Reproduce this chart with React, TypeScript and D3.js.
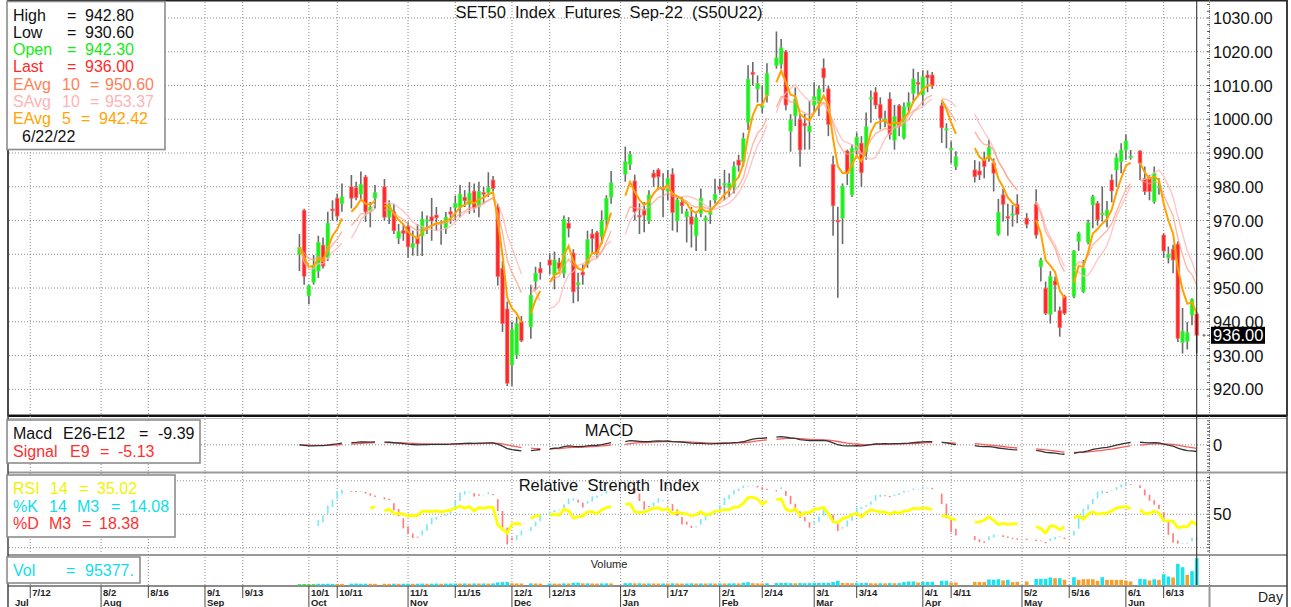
import React, { useEffect, useRef } from 'react';
import * as d3 from 'd3';

const W = 1291;
const H = 607;
const FONT = '"Liberation Sans", Arial, Helvetica, sans-serif';

// trading calendar (weekday slots, slot 0 = 7/12/21)
const slotBase = '2021-07-12';
const firstSession = '2021-09-29';
const lastSession = '2022-06-22';
const holidays = [
  '2021-10-13', '2021-10-22', '2021-12-06', '2021-12-10', '2021-12-31', '2022-01-03',
  '2022-02-16', '2022-04-06', '2022-04-13', '2022-04-14', '2022-04-15', '2022-05-02',
  '2022-05-04', '2022-05-16', '2022-06-03',
];

const dateTicks = [
  '2021-07-12', '2021-08-02', '2021-08-16', '2021-09-01', '2021-09-13', '2021-10-01',
  '2021-10-11', '2021-11-01', '2021-11-15', '2021-12-01', '2021-12-13', '2022-01-03',
  '2022-01-17', '2022-02-01', '2022-02-14', '2022-03-01', '2022-03-14', '2022-04-01',
  '2022-04-11', '2022-05-02', '2022-05-16', '2022-06-01', '2022-06-13',
];
const priceTicks = [920, 930, 940, 950, 960, 970, 980, 990, 1000, 1010, 1020, 1030];

// S50U22 daily OHLC
const opens = [
  960, 973,
  947.7, 951.7, 955, 962.7, 959, 973.4, 976.6, 975, 980, 979.7, 977.8, 982.9, 972.9, 976.6, 980, 971, 972.6, 964.7, 967,
  968.2, 962, 964.9, 965.5, 969.8, 971.1, 971.6, 969.5, 967.7, 972.6, 973.8, 973.8, 976.9, 974.8, 978.7, 974, 978.3, 978.3, 982, 974, 955.8, 943.8,
  927.2, 930.2, 940, 938.5, 952, 955.8, 958.3, 953.9, 957.5, 954.4, 969.2, 960.3, 950.9, 954.7, 957.3, 966, 966.4, 965.2, 970.1, 976.9,
  983.7, 986.6, 981.7, 971.5, 973.1, 969.9, 984, 985, 979.8, 978.7, 983.7, 969.9, 975.4, 971.1, 971.1, 965.5, 972.1, 969.9, 971.8, 976.1,
  980, 980.5, 979.7, 980, 987.9, 987.4, 999.1, 1013.9, 1009, 1003.5, 1007, 1015.9, 1016.3, 1020, 996.5, 1001, 1000, 998.8, 996.3,
  1004.2, 1004.7, 1015.1, 1009, 986.6, 970.1, 970.7, 990.6, 977.6, 990.9, 992.9, 990.4, 1006, 1008, 1004.4, 999.6, 1006, 993.8, 1004, 994.5, 1003.7, 1007.7, 1010.9,
  1007.2, 1013.1, 1013.1, 1004, 996.8, 990.9, 986, 985, 984.7, 988, 988.4, 987, 965.9, 977.6, 971.2, 971.5, 974.8,
  970.7, 974.8, 956.3, 949.9, 942.2, 952.1, 943.3, 947.5, 947.5, 963.8, 948.9, 963.6, 974.6, 975.1, 972, 971.4, 982, 985, 987.4,
  990.9, 988.6, 990.6, 982.5, 982.5, 975.6, 979.8, 965.7, 959, 961.5, 963, 933.9, 934.2, 942, 942.3,
];
const highs = [
  966, 973.5,
  951, 959.8, 965.5, 965, 972.6, 976, 978, 981, 983.5, 981.5, 984.5, 983.5, 975.5, 980.5, 982.3, 976, 975, 969, 969,
  969.5, 967, 969, 972.7, 971.5, 976.7, 974, 970, 972.5, 974, 977.4, 980.5, 979, 981.4, 981, 981.5, 980, 984.3, 983.2, 975, 958, 946,
  940, 941.5, 941.7, 951, 956.3, 957.7, 960.3, 960.8, 959, 971.5, 971, 961.5, 954.5, 957, 967, 967.5, 967, 973, 977.5, 984.7,
  991.9, 990.6, 983.6, 975.1, 975.5, 979, 985, 985.5, 984, 985, 985.5, 977, 977, 973.5, 974, 972, 979.5, 971.5, 976, 982.4,
  982.4, 985, 984, 987.5, 989.5, 996, 1016, 1017, 1013, 1010, 1016.6, 1026, 1023.8, 1020.5, 1001.5, 1009.4, 1001.8, 1001.6, 1005.4,
  1011, 1010, 1018, 1010, 989.2, 974.1, 981, 991, 992.5, 996.1, 995, 1002, 1008.5, 1009.5, 1006.5, 1002.5, 1008, 1004.3, 1004.5, 1005, 1008, 1015, 1014,
  1014.5, 1014.5, 1014, 1005, 998.8, 993.5, 990.5, 987.9, 987.5, 990.4, 993.9, 988.4, 976.4, 979.4, 975, 974.6, 977.8,
  972.2, 979.3, 959, 951.9, 955, 953.4, 944.5, 948, 961.3, 966.7, 958.3, 970.2, 977.6, 975.8, 980.1, 975.8, 983.7, 989.9, 992.9,
  995.5, 990.9, 990.8, 986, 983.5, 986, 982.5, 966.2, 962.3, 962.8, 963.8, 944.1, 939.9, 947, 942.8,
];
const lows = [
  955, 951,
  945.2, 951, 953, 955.8, 958, 970, 970, 972.6, 973.6, 976, 976, 969.6, 968, 973.6, 970, 969, 966, 963, 964,
  959, 959.6, 959.5, 959.5, 966, 964, 967, 962.8, 966, 969, 970, 971, 974, 972, 972.3, 971, 975, 977, 978.6, 950.7, 937, 921,
  921, 929, 934, 935, 949.4, 952.5, 954, 949.6, 955, 953, 965, 945.5, 946, 951, 956, 960, 959, 963, 968, 975,
  981.5, 985, 970, 966, 966.5, 969, 980, 979, 971, 976, 967, 966.5, 972, 963.5, 962, 961, 971, 961, 969, 975,
  978, 976, 977, 978, 984.5, 986, 996.8, 1010, 1005, 1001.8, 1005, 1015, 1015, 1002.7, 990.4, 998, 985.9, 991, 991,
  1002, 1001, 1008, 995, 965.5, 947.1, 963, 980.5, 977, 989, 980, 988, 999, 1003, 997, 997.6, 994, 991, 995, 994, 1002, 1005, 1007,
  1004, 1008, 1009, 993, 991.4, 986.9, 985, 981.3, 982, 982.5, 987.4, 978.6, 965.5, 969.7, 965.5, 968.2, 969.2,
  967.7, 964.7, 951.9, 942, 939.5, 943, 935.6, 942, 947, 961, 948.5, 963, 967.7, 968.5, 969.7, 968, 975.4, 980, 984,
  988, 988, 982, 977.6, 976, 975, 977.6, 959, 957.3, 954.4, 934, 930.6, 931.8, 939, 930.6,
];
const closes = [
  962, 953.5,
  950.7, 956.8, 963.5, 956.5, 969.2, 972.9, 971.3, 977, 976.6, 976.8, 980.7, 972.6, 974, 978.3, 971, 974.8, 967, 966.7, 966.2,
  962.2, 963.2, 963.1, 970.4, 970.2, 969.9, 970.8, 969.6, 971, 971.9, 975.1, 977.8, 975.9, 978.1, 973.8, 978.6, 977.8, 979.7, 979.5, 953.4, 939.5, 921.8,
  937.6, 939.5, 934.4, 947.9, 954.4, 954.5, 956.8, 958.3, 955.8, 970.4, 967.7, 948.9, 951.6, 953.9, 964.3, 964.7, 960.3, 969.9, 976.6, 981.2,
  987.4, 989.6, 972.6, 971.4, 971.6, 977.6, 982.8, 983, 979.1, 982.5, 972.4, 976.1, 974.4, 972.6, 968.9, 970.8, 976.6, 970.8, 972.6, 977.8,
  979.3, 981, 981, 986, 986.4, 994.3, 1011.9, 1013.3, 1010.6, 1004, 1013.6, 1018.2, 1021.2, 1004.2, 999.8, 1006, 990.9, 998.1, 998,
  1006.7, 1009, 1012.3, 998.5, 974.4, 969.6, 980.2, 984, 991.4, 994.7, 984.2, 997.8, 1006.4, 1004.2, 1000.3, 1000.2, 995.5, 1000.8, 998, 1003.7, 1005, 1011.9, 1010.4,
  1012.6, 1012.3, 1010, 997.5, 997.2, 991.4, 988.9, 983, 983.5, 986, 991.6, 984, 972.4, 974.8, 970.7, 972, 971.8,
  968.9, 965.7, 958.3, 942.5, 953.4, 950.9, 938.3, 942.5, 961, 966.2, 955.9, 969.4, 977.1, 970.2, 972.2, 973.1, 978.8, 988.6, 990.9,
  993.6, 989, 987, 978.6, 978.6, 984, 980.2, 961, 960, 958.3, 935.1, 937.2, 936.8, 946.7, 936,
];
const volumes = [
  4500, 4800,
  4200, 4600, 6000, 5800, 6200, 5600, 5800, 5500, 6500, 6800, 6200, 6400, 6000, 5900, 6100, 5800, 6500, 6000, 6300,
  6600, 6000, 6200, 6800, 6100, 6500, 6700, 6200, 6600, 6900, 7000, 6800, 7200, 6700, 7100, 6900, 7000, 6600, 7300, 10500, 11600, 12000,
  8000, 7200, 7000, 7500, 7000, 6500, 7000, 6800, 6400, 7400, 7000, 9500, 9800, 7500, 7600, 7000, 6800, 7200, 7400, 7100,
  8000, 8200, 7500, 7800, 7000, 7300, 7000, 6800, 7200, 6900, 7600, 7200, 6800, 7000, 7400, 7100, 7300, 7000, 7200, 7000,
  7400, 7100, 7300, 7600, 7200, 10000, 11500, 8000, 7500, 7300, 7800, 8500, 8800, 9000, 8200, 7800, 8300, 8000, 8200,
  8800, 9000, 9300, 9600, 12000, 16300, 9000, 8500, 8000, 8300, 8600, 8800, 7800, 7600, 8000, 7500, 8200, 7900, 8300, 12000, 14000, 14200, 10500,
  12500, 12800, 13000, 16300, 16500, 10500, 10000, 12800, 12500, 12000, 21000, 20500, 22000, 17500, 19800, 11600, 12800,
  14000, 23000, 23300, 23500, 28000, 25500, 25500, 19800, 29000, 19800, 22000, 22000, 22000, 16300, 29000, 19800, 19800, 19800, 19800,
  17500, 14000, 23300, 22000, 17500, 22000, 19800, 39500, 31500, 28000, 75800, 64000, 37400, 50000, 95377,
];
// volume tick: 1 up, 0 down, 2 first sessions
const volTick = [
  2, 2,
  2, 2, 1, 1, 1, 1, 0, 0, 1, 1, 1, 1, 0, 0, 0, 0, 1, 0, 1,
  1, 0, 1, 1, 0, 1, 1, 0, 1, 1, 1, 0, 1, 0, 1, 0, 1, 0, 1, 1, 1, 1,
  0, 0, 0, 1, 0, 0, 1, 0, 0, 1, 0, 1, 1, 0, 1, 0, 0, 1, 1, 0,
  1, 1, 0, 1, 0, 1, 0, 0, 1, 0, 1, 0, 0, 1, 1, 0, 1, 0, 1, 0,
  1, 0, 1, 1, 0, 1, 1, 0, 0, 0, 1, 1, 1, 1, 1, 0, 1, 1, 1,
  1, 1, 1, 1, 1, 1, 0, 0, 0, 1, 1, 1, 0, 0, 1, 0, 1, 0, 1, 1, 1, 1, 0,
  1, 1, 1, 1, 1, 0, 0, 0, 0, 0, 1, 1, 1, 0, 1, 0, 0,
  0, 1, 1, 1, 1, 0, 1, 0, 1, 0, 0, 0, 0, 0, 1, 0, 0, 0, 0,
  0, 0, 1, 1, 0, 1, 0, 1, 1, 0, 1, 1, 0, 1, 1,
];

// legend texts as shown on the chart
const legendMain = [
  ['High', '=', '942.80'], ['Low', '=', '930.60'], ['Open', '=', '942.30'], ['Last', '=', '936.00'],
  ['EAvg', '10', '=', '950.60'], ['SAvg', '10', '=', '953.37'], ['EAvg', '5', '=', '942.42'], ['6/22/22'],
];
const legendMacd = [['Macd', 'E26-E12', '=', '-9.39'], ['Signal', 'E9', '=', '-5.13']];
const legendRsi = [['RSI', '14', '=', '35.02'], ['%K', '14', 'M3', '=', '14.08'], ['%D', 'M3', '=', '18.38']];
const legendVol = [['Vol', '=', '95377.']];
const title = 'SET50  Index  Futures  Sep-22  (S50U22)';

function ema(vals: number[], n: number) {
  const k = 2 / (n + 1);
  const out: number[] = [];
  vals.forEach((v, i) => out.push(i === 0 ? v : out[i - 1] + k * (v - out[i - 1])));
  return out;
}
function sma(vals: number[], n: number) {
  return vals.map((_, i) => d3.mean(vals.slice(Math.max(0, i - n + 1), i + 1)) as number);
}

function draw(node: SVGSVGElement) {
  const svg = d3.select(node);
  svg.selectAll('*').remove();

  const parse = d3.timeParse('%Y-%m-%d');
  const fmt = d3.timeFormat('%Y-%m-%d');
  const base = parse(slotBase) as Date;
  const slotOf = (d: Date) => {
    const n = d3.timeDay.count(base, d);
    return Math.floor(n / 7) * 5 + (((n % 7) + 7) % 7);
  };
  const hol = new Set(holidays);
  const days = d3.timeDay
    .range(parse(firstSession) as Date, d3.timeDay.offset(parse(lastSession) as Date, 1))
    .filter((d) => d.getDay() % 6 !== 0 && !hol.has(fmt(d)));
  const slots = days.map(slotOf);
  if (days.length !== closes.length) console.warn('length mismatch', days.length, closes.length);

  const x = d3.scaleLinear().domain([-4.5, 249.6]).range([9, 1209]);
  const y = d3.scaleLinear().domain([920, 1030]).range([389.3, 18]);
  const yMacd = d3.scaleLinear().domain([-38, 38]).range([471.7, 418]);
  const yRsi = d3.scaleLinear().domain([0, 100]).range([547.7, 480.8]);
  const yVol = d3.scaleLinear().domain([0, 95377]).range([585.5, 558.2]);

  // indicators
  const ema10 = ema(closes, 10);
  const sma10 = sma(closes, 10);
  const ema5 = ema(closes, 5);
  const e12 = ema(closes, 12);
  const e26 = ema(closes, 26);
  const macd = e12.map((v, i) => v - e26[i]);
  const signal = ema(macd, 9);

  const rsi: (number | null)[] = closes.map(() => null);
  let ag = 0, al = 0;
  for (let i = 1; i < closes.length; i++) {
    const ch = closes[i] - closes[i - 1];
    const g = Math.max(ch, 0), l = Math.max(-ch, 0);
    if (i <= 14) {
      ag += g / 14; al += l / 14;
      if (i === 14) rsi[i] = 100 - 100 / (1 + ag / al);
    } else {
      ag = (ag * 13 + g) / 14; al = (al * 13 + l) / 14;
      rsi[i] = 100 - 100 / (1 + ag / al);
    }
  }
  const fastK = closes.map((c, i) => {
    const lo = d3.min(lows.slice(Math.max(0, i - 13), i + 1)) as number;
    const hi = d3.max(highs.slice(Math.max(0, i - 13), i + 1)) as number;
    return hi === lo ? 50 : (100 * (c - lo)) / (hi - lo);
  });
  const slowK = fastK.map((_, i) => (i < 2 ? null : (d3.mean(fastK.slice(i - 2, i + 1)) as number)));
  const pctD = slowK.map((_, i) => (i < 4 ? null : (d3.mean(slowK.slice(i - 2, i + 1) as number[]) as number)));

  // series with a break at each holiday slot
  const withBreaks = (vals: (number | null)[]) => {
    const pts: { s: number; v: number | null }[] = [];
    vals.forEach((v, k) => {
      if (k > 0 && slots[k] - slots[k - 1] > 1) pts.push({ s: slots[k] - 1, v: null });
      pts.push({ s: slots[k], v });
    });
    return pts;
  };
  const lineOn = (sc: any) =>
    d3.line<{ s: number; v: number | null }>()
      .defined((p) => p.v != null)
      .x((p) => x(p.s))
      .y((p) => sc(p.v));

  // frames
  svg.append('rect').attr('width', W).attr('height', H).attr('fill', '#fff');
  const frame = svg.append('g');
  frame.append('rect').attr('x', 8).attr('y', 0.75).attr('width', 1279).attr('height', 414.5)
    .attr('fill', 'none').attr('stroke', '#222').attr('stroke-width', 1.5);
  frame.append('line').attr('x1', 8).attr('x2', 1287).attr('y1', 416).attr('y2', 416).attr('stroke', '#111').attr('stroke-width', 2);
  frame.append('line').attr('x1', 8).attr('x2', 1287).attr('y1', 418.5).attr('y2', 418.5).attr('stroke', '#bbb').attr('stroke-width', 1);
  [472.5, 555].forEach((yy) =>
    frame.append('line').attr('x1', 8).attr('x2', 1287).attr('y1', yy).attr('y2', yy).attr('stroke', '#999').attr('stroke-width', 2));
  frame.append('line').attr('x1', 8).attr('x2', 1287).attr('y1', 586).attr('y2', 586).attr('stroke', '#666').attr('stroke-width', 1.5);
  frame.append('line').attr('x1', 8).attr('x2', 8).attr('y1', 0).attr('y2', H).attr('stroke', '#444').attr('stroke-width', 1.5);
  frame.append('line').attr('x1', 1287).attr('x2', 1287).attr('y1', 0).attr('y2', H).attr('stroke', '#333').attr('stroke-width', 1.5);
  frame.append('line').attr('x1', 1209.5).attr('x2', 1209.5).attr('y1', 0).attr('y2', 586)
    .attr('stroke', '#777').attr('stroke-dasharray', '1,1');
  frame.append('line').attr('x1', 1209.5).attr('x2', 1209.5).attr('y1', 586).attr('y2', H).attr('stroke', '#999').attr('stroke-width', 2);

  // grid
  const grid = svg.append('g').attr('stroke', '#8a8a8a').attr('stroke-dasharray', '1,2').attr('stroke-width', 1);
  grid.selectAll('line.h').data(priceTicks).enter().append('line')
    .attr('x1', 9).attr('x2', 1209).attr('y1', (d) => y(d)).attr('y2', (d) => y(d));
  grid.selectAll('line.v').data(dateTicks).enter().append('line')
    .attr('x1', (d) => x(slotOf(parse(d) as Date))).attr('x2', (d) => x(slotOf(parse(d) as Date)))
    .attr('y1', 2).attr('y2', 585);
  grid.append('line').attr('x1', 9).attr('x2', 1209).attr('y1', yMacd(0)).attr('y2', yMacd(0));
  [0, 50, 100].forEach((v) =>
    grid.append('line').attr('x1', 9).attr('x2', 1209).attr('y1', yRsi(v)).attr('y2', yRsi(v)));

  // right axis minor ticks
  const ticks = svg.append('g').attr('stroke', '#555').attr('stroke-width', 1);
  d3.range(918, 1036, 2).forEach((v) =>
    ticks.append('line').attr('x1', 1207).attr('x2', 1210).attr('y1', y(v)).attr('y2', y(v)));
  d3.range(-36, 38, 5).forEach((v) =>
    ticks.append('line').attr('x1', 1207).attr('x2', 1210).attr('y1', yMacd(v)).attr('y2', yMacd(v)));
  d3.range(-5, 106, 5).forEach((v) =>
    ticks.append('line').attr('x1', 1207).attr('x2', 1210).attr('y1', yRsi(v)).attr('y2', yRsi(v)));

  // candles
  const cg = svg.append('g');
  closes.forEach((c, k) => {
    const cx = x(slots[k]);
    const o = opens[k];
    cg.append('line').attr('x1', cx).attr('x2', cx).attr('y1', y(highs[k])).attr('y2', y(lows[k]))
      .attr('stroke', '#6a6a6a').attr('stroke-width', 1.6);
    const up = c >= o;
    const top = y(Math.max(o, c));
    const h = Math.max(1.4, Math.abs(y(o) - y(c)));
    cg.append('rect').attr('x', cx - 1.8).attr('y', top).attr('width', 3.6).attr('height', h)
      .attr('fill', up ? '#1ef01e' : '#ff2828')
      .attr('stroke', up ? 'rgba(90,240,90,0.55)' : 'rgba(255,110,110,0.6)').attr('stroke-width', 1);
  });

  // moving averages
  const ma = svg.append('g').attr('fill', 'none');
  ma.append('path').attr('d', lineOn(y)(withBreaks(sma10)) as string)
    .attr('stroke', '#ffb8b8').attr('stroke-width', 1.4).attr('opacity', 0.8);
  ma.append('path').attr('d', lineOn(y)(withBreaks(ema10)) as string)
    .attr('stroke', '#ff9a7a').attr('stroke-width', 1.4).attr('opacity', 0.7);
  ma.append('path').attr('d', lineOn(y)(withBreaks(ema5)) as string)
    .attr('stroke', '#ffa200').attr('stroke-width', 2);

  // MACD
  const mg = svg.append('g').attr('fill', 'none');
  mg.append('path').attr('d', lineOn(yMacd)(withBreaks(signal)) as string).attr('stroke', '#ff5a5a').attr('stroke-width', 1.3);
  mg.append('path').attr('d', lineOn(yMacd)(withBreaks(macd)) as string).attr('stroke', '#333').attr('stroke-width', 1.3);

  // stochastic K/D ribbon and RSI
  const rg = svg.append('g');
  slowK.forEach((kv, k) => {
    const dv = pctD[k];
    if (kv == null || dv == null) return;
    const cx = x(slots[k]);
    rg.append('line').attr('x1', cx).attr('x2', cx)
      .attr('y1', yRsi(dv)).attr('y2', yRsi(kv) + (Math.abs(kv - dv) < 1 ? 1 : 0))
      .attr('stroke', kv >= dv ? '#7ee8f4' : '#ff7f7f').attr('stroke-width', 1.7);
  });
  rg.append('path').attr('d', lineOn(yRsi)(withBreaks(rsi)) as string)
    .attr('fill', 'none').attr('stroke', '#ffff00').attr('stroke-width', 2.8);

  // volume
  const volColor = ['#f5a02a', '#19e3ee', '#33dd33'];
  svg.append('g').selectAll('rect').data(volumes).enter().append('rect')
    .attr('x', (_, k) => x(slots[k]) - 1.8).attr('width', 3.6)
    .attr('y', (v) => yVol(v)).attr('height', (v) => yVol(0) - yVol(v))
    .attr('fill', (_, k) => volColor[volTick[k]]);

  // current bar cursor
  const lastX = x(slots[slots.length - 1]);
  svg.append('line').attr('x1', lastX).attr('x2', lastX).attr('y1', 1).attr('y2', 585)
    .attr('stroke', '#222').attr('stroke-width', 1);
  svg.append('path').attr('d', `M${1202.5},${y(936)}h3M${1204},${y(936) - 1.5}v3`).attr('stroke', '#666');

  // texts
  const txt = (g: any, s: string, tx: number, ty: number, size: number, color: string, anchor = 'start') =>
    g.append('text').attr('x', tx).attr('y', ty).attr('font-family', FONT).attr('font-size', size)
      .attr('fill', color).attr('text-anchor', anchor).attr('dominant-baseline', 'central')
      .style('white-space', 'pre').text(s);

  const t = svg.append('g');
  txt(t, title, 609, 12, 16.5, '#111', 'middle');
  txt(t, 'MACD', 609, 430, 16.5, '#111', 'middle');
  txt(t, 'Relative  Strength  Index', 609, 485, 16.5, '#111', 'middle');
  txt(t, 'Volume', 609, 564, 11, '#222', 'middle');

  priceTicks.forEach((p) => txt(t, p.toFixed(2), 1213, y(p), 16.5, '#111'));
  txt(t, '0', 1213, yMacd(0), 16.5, '#111');
  txt(t, '50', 1213, yRsi(50), 16.5, '#111');
  t.append('rect').attr('x', 1211).attr('y', y(936) - 8.5).attr('width', 54).attr('height', 17).attr('fill', '#000');
  txt(t, closes[closes.length - 1].toFixed(2), 1213, y(936), 16.5, '#fff');
  txt(t, 'Day', 1258, 597, 14, '#222');

  // x axis: date row and month row
  const ax = svg.append('g');
  const axText = (s: string, tx: number, ty: number) =>
    ax.append('text').attr('x', tx).attr('y', ty).attr('font-family', FONT).attr('font-size', 9.5)
      .attr('font-weight', 'bold').attr('fill', '#222').attr('dominant-baseline', 'central').text(s);
  let prevMonth = -1;
  dateTicks.forEach((ds, j) => {
    const d = parse(ds) as Date;
    const xx = x(slotOf(d));
    const monthStart = j > 0 && d.getMonth() !== prevMonth;
    prevMonth = d.getMonth();
    ax.append('line').attr('x1', xx).attr('x2', xx).attr('y1', 586).attr('y2', monthStart ? H : 598)
      .attr('stroke', '#444').attr('stroke-width', 1);
    axText(d3.timeFormat('%-m/%-d')(d), xx + 2, 592);
    if (monthStart || j === 0) axText(d3.timeFormat('%b')(d), j === 0 ? 15 : xx + 2, 602.5);
  });

  // legend boxes
  const box = (bx: number, by: number, bw: number, bh: number) =>
    svg.append('rect').attr('x', bx).attr('y', by).attr('width', bw).attr('height', bh)
      .attr('fill', '#fff').attr('stroke', '#8c8c8c').attr('stroke-width', 1.6);
  const row = (parts: string[], cols: number[], ty: number, color: string) =>
    parts.forEach((p, i) => txt(svg, p, cols[i], ty, 16, color));

  box(7, 1.5, 158, 148);
  const mainCols = [[13, 67, 85], [13, 67, 85], [13, 67, 85], [13, 67, 85], [13, 62, 90, 105], [13, 62, 90, 105], [13, 62, 81, 99], [22]];
  const mainColors = ['#111', '#111', '#11ee11', '#ff2a2a', '#ff8057', '#ffb3b3', '#ffa500', '#111'];
  legendMain.forEach((parts, i) => row(parts, mainCols[i], 15 + i * 17.3, mainColors[i]));

  box(7, 420, 193, 43);
  row(legendMacd[0], [13, 63, 139, 158], 433, '#111');
  row(legendMacd[1], [13, 70, 100, 118], 451, '#ff3030');

  box(7, 475, 168, 62);
  row(legendRsi[0], [13, 50, 79, 97], 488.5, '#f2f200');
  row(legendRsi[1], [13, 49, 77, 111, 129], 506, '#11dde8');
  row(legendRsi[2], [13, 49, 82, 99], 523.5, '#ff3030');

  box(7, 557, 133, 26);
  row(legendVol[0], [13, 66, 85], 570.5, '#11dde8');
}

export default function App() {
  const ref = useRef<SVGSVGElement>(null);
  useEffect(() => {
    if (ref.current) draw(ref.current);
  }, []);
  return (
    <svg ref={ref} width={W} height={H} style={{ position: 'absolute', left: 0, top: 0, display: 'block' }} />
  );
}
